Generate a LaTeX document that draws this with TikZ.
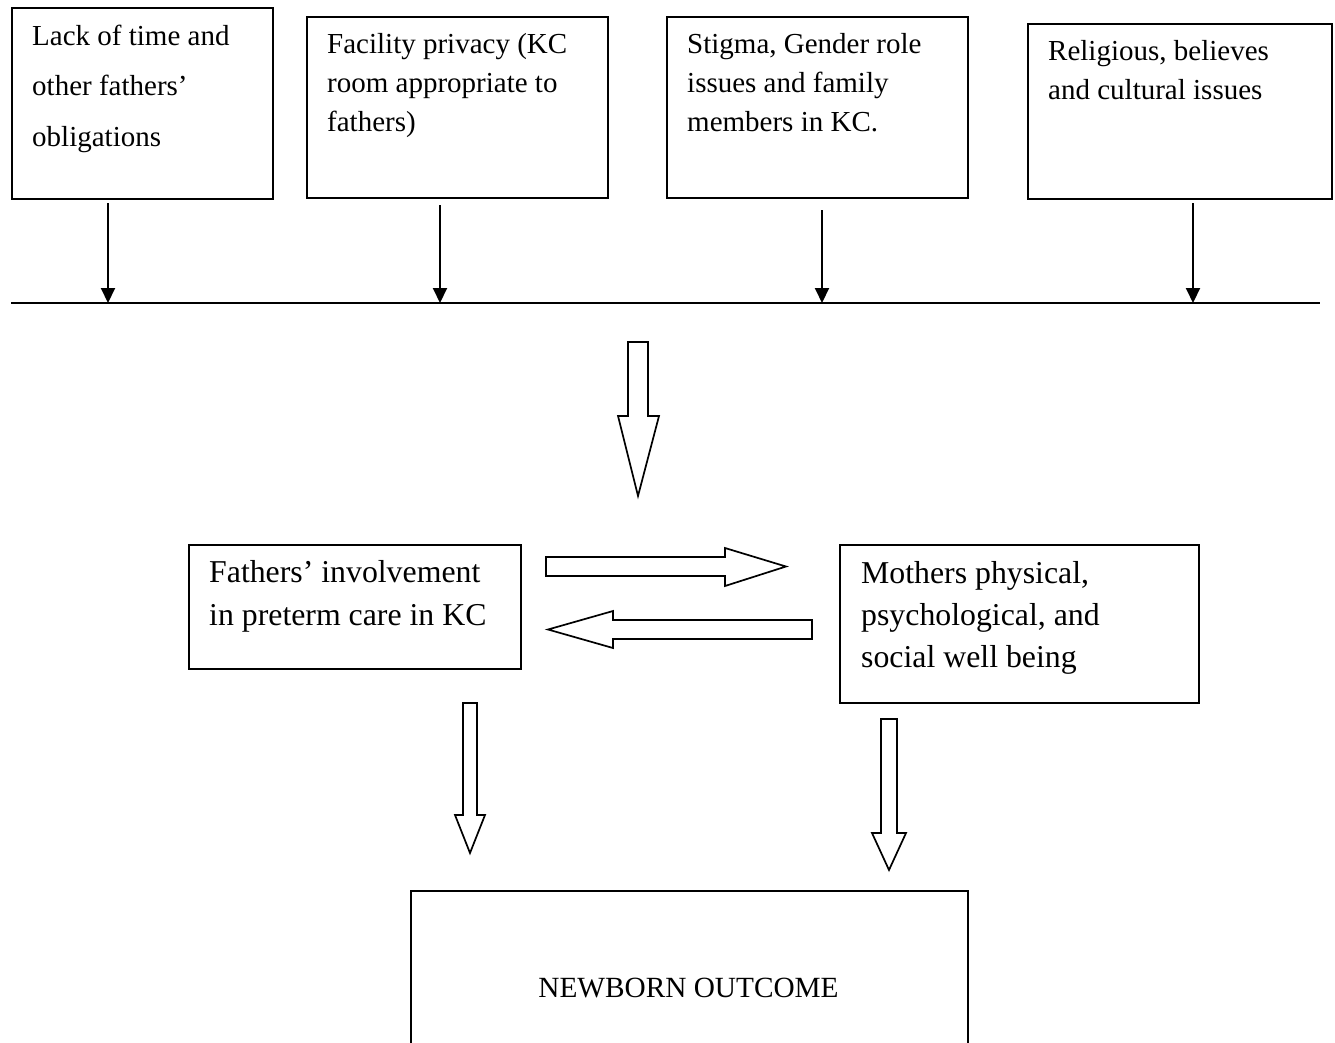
\documentclass[tikz,border=0pt]{standalone}
\usepackage{fontspec}
\setmainfont{Liberation Serif}
\usetikzlibrary{arrows.meta}
\begin{document}
\begin{tikzpicture}[x=1pt,y=-1pt,
  box/.style={draw, line width=1.8pt, inner sep=0pt, anchor=north west},
  ttxt/.style={anchor=base west, inner sep=0pt, font=\fontsize{29}{35}\selectfont},
  mtxt/.style={anchor=base west, inner sep=0pt, font=\fontsize{31.8}{38}\selectfont},
  btxt/.style={anchor=base, inner sep=0pt, font=\fontsize{29.3}{35}\selectfont},
  thinarrow/.style={line width=2pt, -{Triangle[width=14pt,length=15pt]}},
  block/.style={draw, line width=1.7pt, fill=white, line join=miter}]
\useasboundingbox (0,0) rectangle (1335,1042);

% top boxes
\node[box, minimum width=261pt, minimum height=191pt] (b1) at (11,7) {};
\node[box, minimum width=301pt, minimum height=181pt] (b2) at (306,16) {};
\node[box, minimum width=301pt, minimum height=181pt] (b3) at (666,16) {};
\node[box, minimum width=304pt, minimum height=175pt] (b4) at (1027,23) {};

\node[ttxt] (t1a) at (32,45) {Lack of time and};
\node[ttxt] (t1b) at (32,95.5) {other fathers’};
\node[ttxt] (t1c) at (32,146) {obligations};

\node[ttxt] (t2a) at (327,53) {Facility privacy (KC};
\node[ttxt] (t2b) at (327,92) {room appropriate to};
\node[ttxt] (t2c) at (327,131) {fathers)};

\node[ttxt] (t3a) at (687,53) {Stigma, Gender role};
\node[ttxt] (t3b) at (687,92) {issues and family};
\node[ttxt] (t3c) at (687,131) {members in KC.};

\node[ttxt] (t4a) at (1048,60) {Religious, believes};
\node[ttxt] (t4b) at (1048,99) {and cultural issues};

% horizontal line
\coordinate (hl) at (11,303);
\coordinate (hr) at (1320,303);
\draw[line width=2.2pt] (hl) -- (hr);

% thin arrows
\coordinate (a1s) at (108,203);  \coordinate (a1e) at (108,303);
\coordinate (a2s) at (440,205);  \coordinate (a2e) at (440,303);
\coordinate (a3s) at (822,210);  \coordinate (a3e) at (822,303);
\coordinate (a4s) at (1193,203); \coordinate (a4e) at (1193,303);
\draw[thinarrow] (a1s) -- (a1e);
\draw[thinarrow] (a2s) -- (a2e);
\draw[thinarrow] (a3s) -- (a3e);
\draw[thinarrow] (a4s) -- (a4e);

% big down arrow
\draw[block] (628,342) -- (648,342) -- (648,416) -- (659,416) -- (638,496)
  -- (618,416) -- (628,416) -- cycle;

% middle boxes
\node[box, minimum width=332pt, minimum height=124pt] (fb) at (188,544) {};
\node[box, minimum width=359pt, minimum height=158pt] (mb) at (839,544) {};

\node[mtxt] (f1) at (209,582) {Fathers’ involvement};
\node[mtxt] (f2) at (209,625) {in preterm care in KC};

\node[mtxt] (m1) at (861,583) {Mothers physical,};
\node[mtxt] (m2) at (861,625) {psychological, and};
\node[mtxt] (m3) at (861,667) {social well being};

% horizontal block arrows
\draw[block] (546,557) -- (725,557) -- (725,548) -- (786,566.5) -- (725,586)
  -- (725,576) -- (546,576) -- cycle;
\draw[block] (812,620) -- (613,620) -- (613,611) -- (548,629.5) -- (613,648)
  -- (613,639) -- (812,639) -- cycle;

% lower block arrows
\draw[block] (463,703) -- (477,703) -- (477,815) -- (485,815) -- (470,853)
  -- (455,815) -- (463,815) -- cycle;
\draw[block] (881,719) -- (897,719) -- (897,833) -- (906,833) -- (889,870)
  -- (872,833) -- (881,833) -- cycle;

% newborn outcome box (cut off at the bottom)
\coordinate (nbl) at (411,1045);
\coordinate (nbr) at (968,1045);
\draw[line width=1.8pt] (nbl) -- (411,891) -- (968,891) -- (nbr);
\node[btxt] (nb) at (688.5,997) {NEWBORN OUTCOME};
\end{tikzpicture}
\end{document}
